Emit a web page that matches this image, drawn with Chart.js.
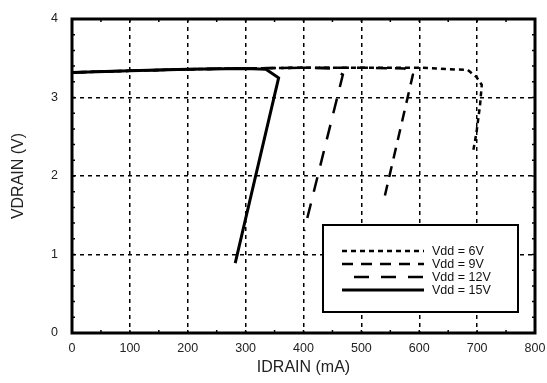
<!DOCTYPE html>
<html>
<head>
<meta charset="utf-8">
<script src="https://cdn.jsdelivr.net/npm/chart.js@4.4.1/dist/chart.umd.min.js"></script>
<style>
html,body{margin:0;padding:0;background:#fff;}
</style>
</head>
<body>
<canvas id="grafica" width="547" height="383"></canvas>
<script>
// datos (IDRAIN en mA, VDRAIN en V)
const etiquetas = ['Vdd = 6V', 'Vdd = 9V', 'Vdd = 12V', 'Vdd = 15V'];

const id6 = [0, 100, 200, 300, 400, 500, 600, 684, 699, 708, 705, 699, 693];
const vd6 = [3.32, 3.34, 3.36, 3.37, 3.38, 3.38, 3.38, 3.35, 3.26, 3.16, 2.90, 2.56, 2.31];

const id9 = [0, 100, 200, 300, 400, 500, 575, 589, 540];
const vd9 = [3.32, 3.34, 3.36, 3.37, 3.38, 3.38, 3.37, 3.29, 1.73];

const id12 = [0, 100, 200, 300, 400, 446, 468, 401];
const vd12 = [3.32, 3.34, 3.36, 3.37, 3.38, 3.37, 3.29, 1.30];

const id15 = [0, 100, 200, 300, 335, 357, 282];
const vd15 = [3.32, 3.34, 3.36, 3.37, 3.36, 3.25, 0.89];

const xMin = 0, xMax = 800, xPaso = 100;
const yMin = 0, yMax = 4, yPaso = 1;

const estilos = [
    {dash: [5, 4], ancho: 2.5},
    {dash: [11, 8], ancho: 2.5},
    {dash: [15, 12], ancho: 2.5},
    {dash: [], ancho: 3}
];

function puntos(xs, ys){
    return xs.map((v, i) => ({x: v, y: ys[i]}));
}

const series = [puntos(id6, vd6), puntos(id9, vd9), puntos(id12, vd12), puntos(id15, vd15)];

const fuente = 'Liberation Sans, Arial, Helvetica, sans-serif';

// marco, marcas interiores y leyenda dibujadas a mano
const marco = {
    id: 'marco',
    afterDatasetsDraw(chart){
        const ctx = chart.ctx;
        const a = chart.chartArea;
        const x = chart.scales.x;
        const y = chart.scales.y;
        ctx.save();
        ctx.strokeStyle = '#000';
        ctx.lineWidth = 1.5;
        ctx.beginPath();
        for(let v = xMin + 50; v < xMax; v += 50){
            let px = x.getPixelForValue(v);
            ctx.moveTo(px, a.bottom); ctx.lineTo(px, a.bottom - 3);
            ctx.moveTo(px, a.top); ctx.lineTo(px, a.top + 3);
        }
        for(let v = 0.2; v < yMax - 0.01; v += 0.2){
            let py = y.getPixelForValue(v);
            ctx.moveTo(a.left, py); ctx.lineTo(a.left + 3, py);
            ctx.moveTo(a.right, py); ctx.lineTo(a.right - 3, py);
        }
        ctx.stroke();

        ctx.lineWidth = 3;
        ctx.strokeRect(a.left, a.top, a.right - a.left, a.bottom - a.top);

        // leyenda
        const bw = 195, bh = 87;
        const bx = a.right - 17 - bw, by = a.bottom - 21 - bh;
        ctx.fillStyle = '#fff';
        ctx.fillRect(bx, by, bw, bh);
        ctx.lineWidth = 2;
        ctx.strokeRect(bx, by, bw, bh);
        ctx.font = '12.5px ' + fuente;
        ctx.textBaseline = 'middle';
        for(let i = 0; i < etiquetas.length; i++){
            let ry = by + 26 + i * 13;
            ctx.beginPath();
            ctx.setLineDash(estilos[i].dash);
            ctx.lineDashOffset = (i == 2) ? 15 : 0;
            ctx.lineWidth = estilos[i].ancho;
            ctx.moveTo(bx + 19, ry);
            ctx.lineTo(bx + 101, ry);
            ctx.stroke();
            ctx.setLineDash([]);
            ctx.fillStyle = '#111';
            ctx.fillText(etiquetas[i], bx + 109, ry + 1);
        }
        ctx.restore();
    }
};

const colorRejilla = (c) => {
    let v = c.tick ? c.tick.value : 0;
    return (c.index == 0 || v == xMax || (c.scale.axis == 'y' && v == yMax)) ? 'rgba(0,0,0,0)' : '#000';
};

const grafica = new Chart(document.getElementById('grafica'), {
    type: 'line',
    data: {
        datasets: series.map((d, i) => ({
            label: etiquetas[i],
            data: d,
            borderColor: '#000',
            borderWidth: estilos[i].ancho,
            borderDash: estilos[i].dash,
            pointRadius: 0,
            fill: false,
            tension: 0
        }))
    },
    options: {
        responsive: false,
        animation: false,
        devicePixelRatio: 1,
        layout: {padding: {top: 19, right: 12, left: 0, bottom: 0}},
        plugins: {legend: {display: false}, tooltip: {enabled: false}},
        scales: {
            x: {
                type: 'linear',
                min: xMin, max: xMax,
                afterFit: (s) => { s.height = 50; s.paddingLeft = 0; s.paddingRight = 0; },
                ticks: {stepSize: xPaso, padding: 8, color: '#222', font: {family: fuente, size: 12.5}},
                grid: {color: colorRejilla, lineWidth: 1.5, drawTicks: false},
                border: {display: false, dash: [4, 4]},
                title: {display: true, text: 'IDRAIN (mA)', color: '#222', font: {family: fuente, size: 16}, padding: {top: 0, bottom: 6}}
            },
            y: {
                min: yMin, max: yMax,
                afterFit: (s) => { s.width = 72; s.paddingTop = 0; s.paddingBottom = 0; },
                ticks: {stepSize: yPaso, padding: 14, color: '#222', font: {family: fuente, size: 12.5}},
                grid: {color: colorRejilla, lineWidth: 1.5, drawTicks: false},
                border: {display: false, dash: [4, 4]},
                title: {display: true, text: 'VDRAIN (V)', color: '#222', font: {family: fuente, size: 16}, padding: {top: 9, bottom: 0}}
            }
        }
    },
    plugins: [marco]
});
</script>
</body>
</html>
